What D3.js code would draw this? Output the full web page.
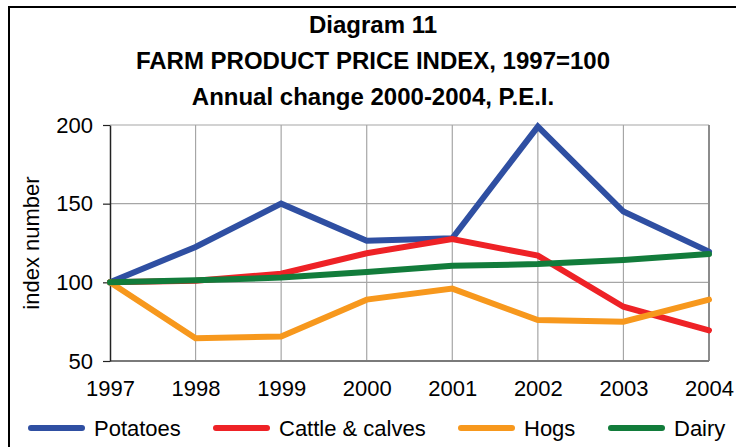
<!DOCTYPE html>
<html>
<head>
<meta charset="utf-8">
<script src="https://cdn.jsdelivr.net/npm/d3@7"></script>
<style>
  body { margin: 0; background: #fff; }
  svg { display: block; font-family: "Liberation Sans", Arial, sans-serif; }
  .tick-label { font-size: 22px; fill: #000; }
</style>
</head>
<body>
<svg id="chart"></svg>
<script>
// data
const years = [1997, 1998, 1999, 2000, 2001, 2002, 2003, 2004];
const potatoes = [100, 122.5, 150, 126.5, 128, 199, 145, 119.5];
const cattle = [100, 101, 105.5, 118.5, 127.5, 117, 84.5, 69.5];
const hogs = [100, 64.5, 65.5, 89, 96, 76, 75, 89];
const dairy = [100, 101.3, 103, 106.5, 110.5, 111.6, 114.2, 118];
const seriesNames = ['Potatoes', 'Cattle & calves', 'Hogs', 'Dairy'];
const seriesColors = ['#2f4fa2', '#ee2226', '#f7981d', '#127c3b'];
const yTicks = [50, 100, 150, 200];
const titleLines = ['Diagram 11', 'FARM PRODUCT PRICE INDEX, 1997=100', 'Annual change 2000-2004, P.E.I.'];

const W = 736, H = 447;
const margin = {top: 125, right: 27, bottom: 86, left: 110};
const width = W - margin.left - margin.right;
const height = H - margin.top - margin.bottom;

const svg = d3.select('#chart')
    .attr('width', W)
    .attr('height', H);

// outer frame (cut off at the right and bottom like the picture)
svg.append('rect')
    .attr('x', 9)
    .attr('y', 7)
    .attr('width', W + 10)
    .attr('height', H + 10)
    .attr('fill', 'none')
    .attr('stroke', '#000')
    .attr('stroke-width', 2);

// titles
svg.selectAll('.title')
    .data(titleLines)
  .join('text')
    .attr('class', 'title')
    .attr('x', 373)
    .attr('y', (d, i) => 33 + i * 36)
    .attr('text-anchor', 'middle')
    .style('font-size', '24px')
    .style('font-weight', 'bold')
    .text(d => d);

const chart = svg.append('g')
    .attr('transform', `translate(${margin.left},${margin.top})`);

const xScale = d3.scalePoint()
    .domain(years)
    .range([0, width]);

const yScale = d3.scaleLinear()
    .domain([50, 200])
    .range([height, 0]);

// gridlines
chart.append('g')
    .selectAll('line')
    .data(years.slice(1))
  .join('line')
    .attr('x1', d => xScale(d))
    .attr('x2', d => xScale(d))
    .attr('y1', 0)
    .attr('y2', height)
    .attr('stroke', '#a6a6a6')
    .attr('stroke-width', 1.2);

chart.append('g')
    .selectAll('line')
    .data(yTicks.slice(1))
  .join('line')
    .attr('x1', 0)
    .attr('x2', width)
    .attr('y1', d => yScale(d))
    .attr('y2', d => yScale(d))
    .attr('stroke', '#a6a6a6')
    .attr('stroke-width', 1.2);

// plot border right/bottom
chart.append('line')
    .attr('x1', width).attr('x2', width)
    .attr('y1', 0).attr('y2', height)
    .attr('stroke', '#8c8c8c').attr('stroke-width', 2);
chart.append('line')
    .attr('x1', 0).attr('x2', width)
    .attr('y1', height).attr('y2', height)
    .attr('stroke', '#7a7a7a').attr('stroke-width', 2);

// y axis
const yAxis = d3.axisLeft(yScale)
    .tickValues(yTicks)
    .tickSize(7)
    .tickPadding(10)
    .tickSizeOuter(0);

const yAxisG = chart.append('g').call(yAxis);
yAxisG.select('.domain').attr('stroke', '#222').attr('stroke-width', 1.5);
yAxisG.selectAll('.tick line').attr('stroke', '#222').attr('stroke-width', 1.2);
yAxisG.selectAll('.tick text')
    .attr('class', 'tick-label')
    .attr('font-size', null)
    .attr('font-family', null);

// x axis labels
const xAxis = d3.axisBottom(xScale)
    .tickSize(0)
    .tickPadding(19);
const xAxisG = chart.append('g')
    .attr('transform', `translate(0,${height})`)
    .call(xAxis);
xAxisG.select('.domain').remove();
xAxisG.selectAll('.tick text')
    .attr('class', 'tick-label')
    .attr('font-size', null)
    .attr('font-family', null);

// y axis title
svg.append('text')
    .attr('transform', `translate(39,${margin.top + height / 2}) rotate(-90)`)
    .attr('text-anchor', 'middle')
    .style('font-size', '22px')
    .text('index number');

// lines
const allSeries = [potatoes, cattle, hogs, dairy];
const line = d3.line()
    .x((d, i) => xScale(years[i]))
    .y(d => yScale(d));

chart.selectAll('.series')
    .data(allSeries)
  .join('path')
    .attr('class', 'series')
    .attr('d', d => line(d))
    .attr('fill', 'none')
    .attr('stroke', (d, i) => seriesColors[i])
    .attr('stroke-width', 6)
    .attr('stroke-linejoin', 'miter')
    .attr('stroke-linecap', 'round');

// legend
const legendX = [29, 214, 459, 609];
const legend = svg.selectAll('.legend')
    .data(seriesNames)
  .join('g')
    .attr('class', 'legend')
    .attr('transform', (d, i) => `translate(${legendX[i]},428)`);

legend.append('line')
    .attr('x1', 2).attr('x2', 53)
    .attr('y1', 0).attr('y2', 0)
    .attr('stroke', (d, i) => seriesColors[i])
    .attr('stroke-width', 6)
    .attr('stroke-linecap', 'round');

legend.append('text')
    .attr('x', 65)
    .attr('y', 8)
    .style('font-size', '22px')
    .text(d => d);
</script>
</body>
</html>
